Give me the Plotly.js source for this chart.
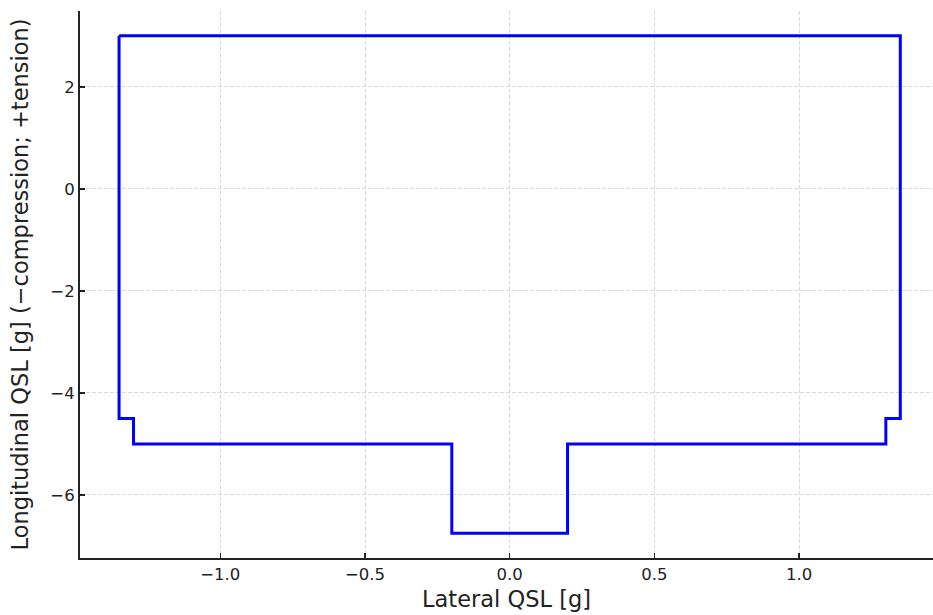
<!DOCTYPE html>
<html>
<head>
<meta charset="utf-8">
<script src="https://cdn.plot.ly/plotly-3.0.1.min.js"></script>
<style>html,body{margin:0;padding:0;background:#fff;}#chart{width:933px;height:615px;}</style>
</head>
<body>
<div id="chart"></div>
<script>
var lateral = [-1.35, 1.35, 1.35, 1.3, 1.3, 0.2, 0.2, -0.2, -0.2, -1.3, -1.3, -1.35, -1.35];
var longitudinal = [3, 3, -4.5, -4.5, -5, -5, -6.75, -6.75, -5, -5, -4.5, -4.5, 3];
var xTicks = [-1.0, -0.5, 0.0, 0.5, 1.0];
var xTickText = ['\u22121.0', '\u22120.5', '0.0', '0.5', '1.0'];
var yTicks = [-6, -4, -2, 0, 2];
var yTickText = ['\u22126', '\u22124', '\u22122', '0', '2'];

var trace = {
  x: lateral, y: longitudinal, mode: 'lines', type: 'scatter',
  line: {color: '#0000ff', width: 3}, hoverinfo: 'skip'
};
var tickFont = {family: 'DejaVu Sans, sans-serif', size: 16.5, color: '#222'};
var titleFont = {family: 'DejaVu Sans, sans-serif', size: 22.5, color: '#222'};
var layout = {
  width: 933, height: 615,
  margin: {l: 80, r: 0, t: 11, b: 57},
  paper_bgcolor: '#fff', plot_bgcolor: '#fff',
  showlegend: false,
  font: {family: 'DejaVu Sans, sans-serif', color: '#222'},
  xaxis: {
    range: [-1.485, 1.463], autorange: false,
    tickvals: xTicks, ticktext: xTickText,
    ticks: 'inside', ticklen: 5, tickwidth: 1.5, tickcolor: '#222',
    tickfont: tickFont,
    showline: true, linecolor: '#222', linewidth: 2, mirror: false,
    showgrid: true, gridcolor: '#cfcfcf', gridwidth: 0.8, griddash: '4px,2px',
    zeroline: false,
    title: {text: 'Lateral QSL [g]', font: titleFont, standoff: 8}
  },
  yaxis: {
    range: [-7.2375, 3.4875], autorange: false,
    tickvals: yTicks, ticktext: yTickText,
    ticks: 'inside', ticklen: 5, tickwidth: 1.5, tickcolor: '#222',
    tickfont: tickFont,
    showline: true, linecolor: '#222', linewidth: 2, mirror: false,
    showgrid: true, gridcolor: '#cfcfcf', gridwidth: 0.8, griddash: '4px,2px',
    zeroline: false,
    title: {text: 'Longitudinal QSL [g] (\u2212compression; +tension)', font: titleFont, standoff: 15}
  }
};
Plotly.newPlot('chart', [trace], layout, {displayModeBar: false, staticPlot: true});
</script>
</body>
</html>
